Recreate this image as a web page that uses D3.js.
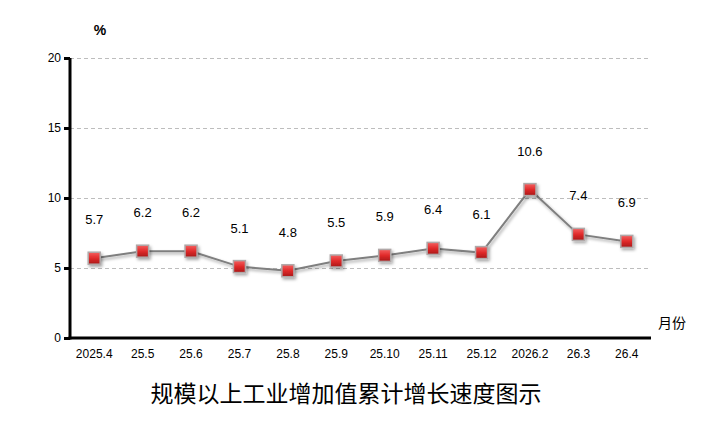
<!DOCTYPE html>
<html><head><meta charset="utf-8">
<script src="https://cdn.jsdelivr.net/npm/d3@7"></script>
<style>body{margin:0;background:#fff}svg{display:block}</style>
</head><body><svg id="c" width="705" height="432"></svg>
<script>
const categories = ["2025.4","25.5","25.6","25.7","25.8","25.9","25.10","25.11","25.12","2026.2","26.3","26.4"];
const values = [5.7,6.2,6.2,5.1,4.8,5.5,5.9,6.4,6.1,10.6,7.4,6.9];
const yTicks = [0,5,10,15,20];
const title = "规模以上工业增加值累计增长速度图示";

(function(){
const svg = d3.select("#c");
const mLeft = 70, mRight = 651, mTop = 58, mBottom = 338;
const x = d3.scaleBand().domain(categories).range([mLeft, mRight]);
const y = d3.scaleLinear().domain([0,20]).range([mBottom, mTop]);

const defs = svg.append("defs");
const g = defs.append("linearGradient").attr("id","mg").attr("x1",0).attr("y1",0).attr("x2",0).attr("y2",1);
g.append("stop").attr("offset","0%").attr("stop-color","#f56060");
g.append("stop").attr("offset","50%").attr("stop-color","#e02a2a");
g.append("stop").attr("offset","100%").attr("stop-color","#a81818");
const f = defs.append("filter").attr("id","sh").attr("x","-50%").attr("y","-50%").attr("width","200%").attr("height","200%");
f.append("feDropShadow").attr("dx",1.5).attr("dy",2).attr("stdDeviation",1.5).attr("flood-color","#000").attr("flood-opacity",0.35);

// grid
svg.append("g").selectAll("line").data(yTicks.filter(d=>d>0)).join("line")
  .attr("x1",mLeft).attr("x2",mRight).attr("y1",d=>y(d)+0.5).attr("y2",d=>y(d)+0.5)
  .attr("stroke","#bdbdbd").attr("stroke-dasharray","4,3").attr("stroke-width",1);

// y axis
const ya = svg.append("g").attr("transform",`translate(${mLeft},0)`)
  .call(d3.axisLeft(y).tickValues(yTicks).tickSize(6).tickPadding(3));
ya.select(".domain").attr("stroke","#000").attr("stroke-width",3).attr("d",`M0,${mTop}V${mBottom+1.5}`);
ya.selectAll(".tick line").attr("stroke","#000").attr("stroke-width",3);
ya.selectAll(".tick text").attr("font-family","Liberation Sans, Arial, sans-serif").attr("font-size",12).attr("fill","#000");

// x axis
const xa = svg.append("g").attr("transform",`translate(0,${mBottom})`)
  .call(d3.axisBottom(x).tickSize(0).tickPadding(11));
xa.select(".domain").attr("stroke","#000").attr("stroke-width",3).attr("d",`M${mLeft-1.5},0H${mRight}`);
xa.selectAll(".tick text").attr("font-family","Liberation Sans, Arial, sans-serif").attr("font-size",12).attr("fill","#000");

// line
const cx = d => x(d) + x.bandwidth()/2;
const line = d3.line().x((d,i)=>cx(categories[i])).y(d=>y(d));
svg.append("path").datum(values).attr("d",line).attr("fill","none")
  .attr("stroke","#7f7f7f").attr("stroke-width",2).attr("filter","url(#sh)");

// markers
svg.append("g").selectAll("rect").data(values).join("rect")
  .attr("x",(d,i)=>cx(categories[i])-6).attr("y",d=>y(d)-6)
  .attr("width",12).attr("height",12)
  .attr("fill","url(#mg)").attr("stroke","#b0a8a8").attr("stroke-width",1.5)
  .attr("filter","url(#sh)");

// labels
svg.append("g").selectAll("text").data(values).join("text")
  .attr("x",(d,i)=>cx(categories[i])).attr("y",d=>y(d)-34)
  .attr("text-anchor","middle").attr("font-family","Liberation Sans, Arial, sans-serif")
  .attr("font-size",13).attr("fill","#000").text(d=>d.toFixed(1));

svg.append("text").attr("x",100).attr("y",35).attr("text-anchor","middle")
  .attr("font-family","Liberation Sans, Arial, sans-serif").attr("font-size",14).attr("font-weight","bold").text("%");
svg.append("text").attr("x",658).attr("y",328)
  .attr("font-family","Noto Sans CJK SC, sans-serif").attr("font-size",14).text("月份");
svg.append("text").attr("x",346).attr("y",402).attr("text-anchor","middle")
  .attr("font-family","Noto Sans CJK SC, sans-serif").attr("font-size",23).text(title);
})();
</script></body></html>
